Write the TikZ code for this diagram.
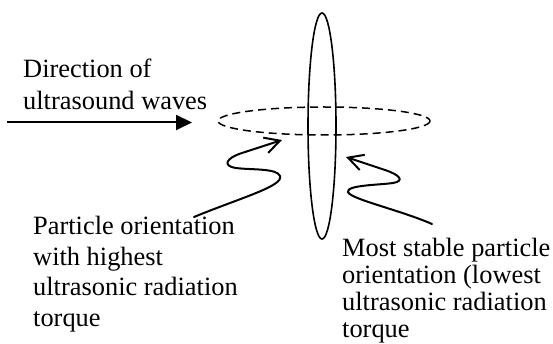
\documentclass[tikz,border=0pt]{standalone}
\usepackage{fontspec}
\setmainfont{Liberation Serif}
\usetikzlibrary{arrows.meta}

\begin{document}
\begin{tikzpicture}[x=1pt, y=-1pt,
        lbl/.style={inner sep=0pt, anchor=base west, align=left},
        wiggle/.style={line width=2pt, line cap=round, -{Straight Barb[length=15pt, width=16pt]}}]
        \useasboundingbox (0,0) rectangle (553,344);

        % particle shapes
        \draw[line width=1.6pt] (322,126) ellipse (14 and 113);
        \draw[line width=1.5pt, dash pattern=on 8pt off 5pt] (324,121) ellipse (106 and 14);

        % incoming waves
        \coordinate (wsrc) at (7,122.5);
        \coordinate (wtip) at (192,122.5);
        \draw[line width=2pt, -{Triangle[length=16pt, width=15pt]}] (wsrc) -- (wtip);
        \node[lbl, font=\fontsize{26.4}{32}\selectfont] (dirtxt) at (23,110)
            {Direction of\\ultrasound waves};

        % label for the high torque orientation
        \node[lbl, font=\fontsize{26.4}{30.5}\selectfont] (hightxt) at (33,326)
            {Particle orientation\\with highest\\ultrasonic radiation\\torque};
        \coordinate (hs) at (194,217);
        \coordinate (ht) at (282,140);
        \draw[wiggle] (hs) .. controls (240,198) and (284,186) .. (280,176)
            .. controls (277,168) and (250,170) .. (236,168)
            .. controls (222,166) and (226,158) .. (242,153) -- (ht);

        % label for the stable orientation
        \node[lbl, font=\fontsize{26.4}{27}\selectfont] (stabletxt) at (342,337)
            {Most stable particle\\orientation (lowest\\ultrasonic radiation\\torque};
        \coordinate (ss) at (432,224);
        \coordinate (st) at (346,157);
        \draw[wiggle] (ss) .. controls (400,210) and (350,199) .. (348,192)
            .. controls (346,185) and (380,185) .. (393,183)
            .. controls (405,181) and (400,175) .. (385,170) -- (st);
\end{tikzpicture}
\end{document}
